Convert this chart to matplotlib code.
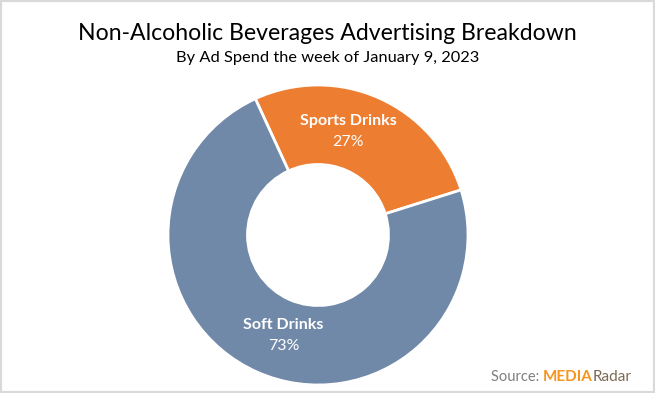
import matplotlib.pyplot as plt
from matplotlib.patches import Rectangle

plt.rcParams["font.family"] = ["Lato", "DejaVu Sans"]

categories = ["Sports Drinks", "Soft Drinks"]
shares = [27, 73]
colors = ["#ED7D31", "#7189A8"]
# label anchor points (data coords of the donut axes)
label_pos = [(0.2, 0.69), (-0.23, -0.67)]

fig = plt.figure(figsize=(6.55, 3.93), dpi=100)
fig.patches.append(Rectangle((0, 0), 1, 1, transform=fig.transFigure,
                             fill=False, edgecolor="#D9D9D9", linewidth=3))

# donut: centre ~ (318, 235) px, outer radius ~150 px
ax = fig.add_axes([(318 - 150) / 655, (393 - 235 - 150) / 393, 300 / 655, 300 / 393])
ax.pie(shares, colors=colors, startangle=114.7, counterclock=False,
       radius=1.0, wedgeprops=dict(width=0.53, edgecolor="white", linewidth=2))
ax.set_xlim(-1, 1)
ax.set_ylim(-1, 1)
ax.set_aspect("equal")
ax.axis("off")

for name, val, (x, y) in zip(categories, shares, label_pos):
    ax.text(x, y + 0.07, name, ha="center", va="center", color="white",
            fontsize=11.5, fontweight="bold")
    ax.text(x, y - 0.07, f"{val}%", ha="center", va="center", color="white",
            fontsize=11.5)

fig.text(0.5, 1 - 33 / 393, "Non-Alcoholic Beverages Advertising Breakdown",
         ha="center", va="center", fontsize=16.6, color="black")
fig.text(0.5, 1 - 58 / 393, "By Ad Spend the week of January 9, 2023",
         ha="center", va="center", fontsize=11.8, color="black")

# source note
src = fig.text(491 / 655, 1 - 377 / 393, "Source: ", ha="left", va="center",
               fontsize=10.5, color="#7F7F7F")
fig.canvas.draw()
bb = src.get_window_extent()
x1 = bb.x1 / fig.bbox.width
med = fig.text(x1, 1 - 377 / 393, "MEDIA", ha="left", va="center",
               fontsize=11, color="#F7941D", fontweight="bold")
fig.canvas.draw()
x2 = med.get_window_extent().x1 / fig.bbox.width
fig.text(x2, 1 - 377 / 393, "Radar", ha="left", va="center",
         fontsize=11, color="#7A6A55")

fig.savefig("out.png", dpi=100)
